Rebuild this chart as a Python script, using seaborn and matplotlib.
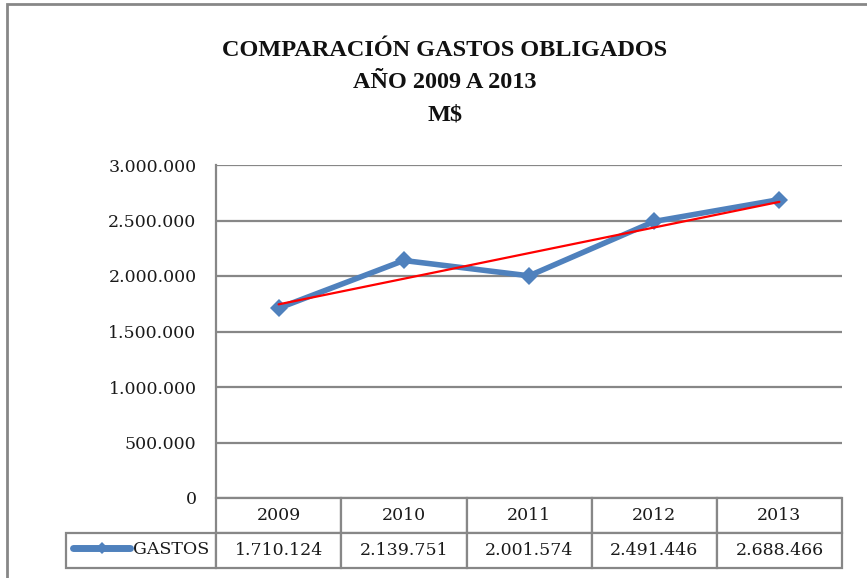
import numpy as np
import pandas as pd
import matplotlib
matplotlib.use("Agg")
import matplotlib.pyplot as plt
from matplotlib.lines import Line2D
from matplotlib.patches import Rectangle
from matplotlib.ticker import FuncFormatter, MultipleLocator
import seaborn as sns

# datos
anios = ['2009', '2010', '2011', '2012', '2013']
gastos = [1710124, 2139751, 2001574, 2491446, 2688466]
serie = 'GASTOS'
titulo = 'COMPARACIÓN GASTOS OBLIGADOS\nAÑO 2009 A 2013\nM$'

azul = '#4F81BD'
gris = '#878787'

sns.set_style('white')
plt.rcParams['font.family'] = ['DejaVu Serif']


def miles(v):
    return f"{int(round(v)):,}".replace(',', '.')


df = pd.DataFrame({'anio': anios, 'gastos': gastos})

fig = plt.figure(figsize=(8.67, 5.78), dpi=100)
ax = fig.add_axes([216 / 867, 1 - 498 / 578, 626 / 867, 333 / 578])

sns.lineplot(data=df, x='anio', y='gastos', ax=ax, color=azul, lw=4,
             marker='D', markersize=9, markeredgewidth=0, legend=False)
# tendencia lineal
sns.regplot(x=np.arange(len(anios)), y=np.array(gastos, dtype=float), ax=ax,
            scatter=False, ci=None, truncate=True, color='#FF0000',
            line_kws={'lw': 1.6})

ax.set_xlim(-0.5, len(anios) - 0.5)
ax.set_ylim(0, 3000000)
ax.yaxis.set_major_locator(MultipleLocator(500000))
ax.yaxis.set_major_formatter(FuncFormatter(lambda v, p: miles(v)))
ax.set_xticks([])
ax.set_xlabel('')
ax.set_ylabel('')
ax.tick_params(axis='y', length=0, pad=14, labelsize=12.5, colors='#1a1a1a')
ax.yaxis.grid(True, color=gris, lw=1.6)
ax.set_axisbelow(True)
for s in ['top', 'right', 'bottom']:
    ax.spines[s].set_visible(False)
ax.spines['left'].set_color(gris)
ax.spines['left'].set_linewidth(1.6)

# tabla de datos
filas = [[''] + anios, [''] + [miles(g) for g in gastos]]
anchos = [150, 125, 125, 125, 125, 125]
tabla = ax.table(cellText=filas, colWidths=[a / sum(anchos) for a in anchos],
                 cellLoc='center', bbox=[-150 / 626, -70 / 333, 776 / 626, 70 / 333])
tabla.auto_set_font_size(False)
tabla.set_fontsize(12.5)
for (r, c), celda in tabla.get_celld().items():
    celda.set_edgecolor(gris)
    celda.set_linewidth(1.6)
    celda.get_text().set_color('#1a1a1a')
tabla[0, 0].visible_edges = ''

# leyenda dentro de la tabla
clave = Line2D([], [], color=azul, lw=5, marker='D', markersize=6,
               markeredgewidth=0, solid_capstyle='round')
leg = ax.legend([clave], [serie], loc='center left',
                bbox_to_anchor=(73 / 867, 1 - 550 / 578),
                bbox_transform=fig.transFigure, frameon=False, fontsize=12.5,
                handlelength=3.3, handletextpad=0.15, borderpad=0,
                borderaxespad=0, numpoints=1)
for t in leg.get_texts():
    t.set_color('#1a1a1a')

fig.text(445 / 867, 1 - 120 / 578, titulo, ha='center', va='baseline',
         fontsize=17.5, fontweight='bold', family=['Liberation Serif'],
         linespacing=1.68, color='#111111')

fig.patches.append(Rectangle((7 / 867, -0.1), 1.2, (1 - 4 / 578) + 0.1,
                             transform=fig.transFigure, fill=False,
                             edgecolor=gris, lw=2))

fig.savefig('out.png', dpi=100)
